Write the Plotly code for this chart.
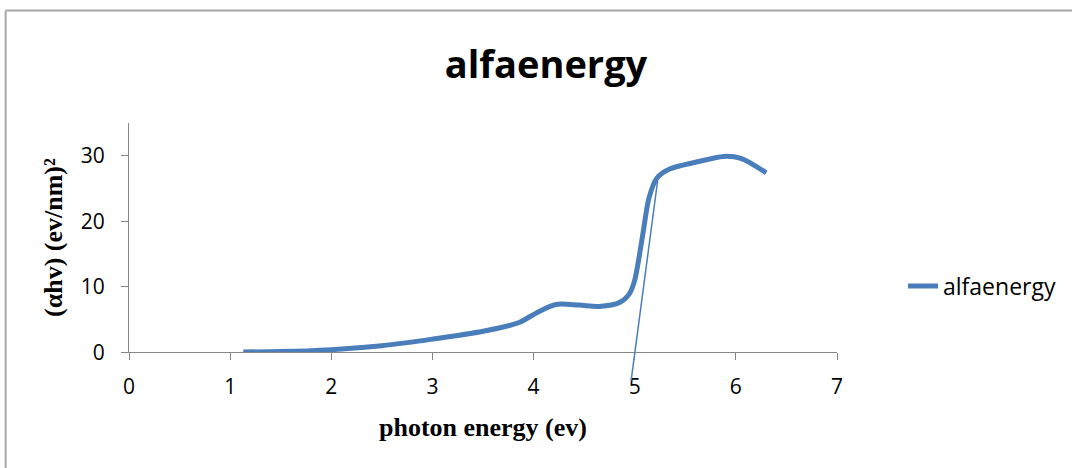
import plotly.graph_objects as go

# Photon energy (eV) and (alpha*h*nu)^2 values
photon_energy = [1.13, 1.5, 2.0, 2.5, 3.0, 3.5, 3.85, 4.05, 4.22, 4.45, 4.65,
                 4.85, 4.95, 5.0, 5.08, 5.14, 5.22, 5.35, 5.6, 5.88, 6.05, 6.3]
alpha_hv_sq = [0.05, 0.1, 0.4, 1.0, 2.0, 3.2, 4.5, 6.2, 7.3, 7.2, 7.0,
               7.6, 9.0, 11.0, 18.0, 23.5, 26.6, 28.0, 29.0, 29.9, 29.6, 27.4]

# Linear extrapolation of the absorption edge
tangent_x = [4.965, 5.23]
tangent_y = [-4.3, 26.6]

x_ticks = [0, 1, 2, 3, 4, 5, 6, 7]
y_ticks = [0, 10, 20, 30]

BLUE = "#4a7ebb"
AXIS = "#868686"
SANS = "Open Sans"
SERIF = "Liberation Serif"

fig = go.Figure()
# Tangent drawn on a taller twin axis so it can reach below zero
fig.add_trace(go.Scatter(
    x=tangent_x, y=tangent_y, mode="lines", showlegend=False,
    line=dict(color=BLUE, width=1.5), xaxis="x", yaxis="y2",
))
fig.add_trace(go.Scatter(
    x=photon_energy, y=alpha_hv_sq, mode="lines", name="alfaenergy",
    line=dict(color=BLUE, width=5, shape="spline", smoothing=0.8),
    xaxis="x", yaxis="y",
))

fig.update_layout(
    width=1072, height=468,
    margin=dict(l=129, r=234, t=123, b=83),
    paper_bgcolor="white", plot_bgcolor="rgba(0,0,0,0)",
    title=dict(text="<b>alfaenergy</b>", x=546 / 1072, xanchor="center",
               y=1 - 65 / 468, yanchor="middle",
               font=dict(family=SANS, size=38, color="black")),
    xaxis=dict(range=[0, 7], tickvals=x_ticks, anchor="y",
               showline=True, linecolor=AXIS, linewidth=1.3,
               ticks="outside", ticklen=7, tickcolor=AXIS, tickwidth=1.3,
               showgrid=False, zeroline=False, ticklabelstandoff=8,
               tickfont=dict(family=SANS, size=21, color="black"),
               title=dict(text="<b>photon energy (ev)</b>", standoff=19,
                          font=dict(family=SERIF, size=26, color="black"))),
    yaxis=dict(range=[0, 35], tickvals=y_ticks, domain=[0.125, 1],
               anchor="x", showline=True, linecolor=AXIS, linewidth=1.3,
               ticks="outside", ticklen=7, tickcolor=AXIS, tickwidth=1.3,
               showgrid=False, zeroline=False, ticklabelstandoff=12,
               tickfont=dict(family=SANS, size=21, color="black"),
               title=dict(text="<b>(αhv) (ev/nm)²</b>", standoff=10,
                          font=dict(family=SERIF, size=26, color="black"))),
    yaxis2=dict(range=[-5, 35], domain=[0, 1], anchor="x", visible=False),
    legend=dict(x=(903 - 129) / 709, y=(385 - 286) / 262,
                xanchor="left", yanchor="middle",
                font=dict(family=SANS, size=23, color="black"),
                bgcolor="rgba(0,0,0,0)"),
    shapes=[
        dict(type="line", xref="paper", yref="paper",
             x0=-0.1742, x1=1.4, y0=1.4294, y1=1.4294,
             line=dict(color="#a6a6a6", width=2)),
        dict(type="line", xref="paper", yref="paper",
             x0=-0.1742, x1=-0.1742, y0=1.4294, y1=-0.45,
             line=dict(color="#a6a6a6", width=2)),
    ],
)

fig.write_html("out.html")
